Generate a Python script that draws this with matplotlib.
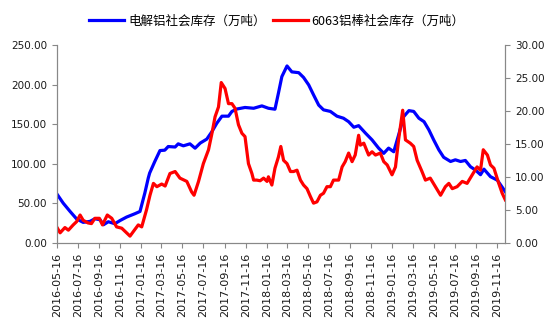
import pandas as pd
import matplotlib
matplotlib.use("Agg")
import matplotlib.pyplot as plt
import matplotlib.dates as mdates
from matplotlib.ticker import FormatStrFormatter

plt.rcParams['font.family'] = ['Noto Sans CJK SC', 'DejaVu Sans']

# 电解铝社会库存（万吨）, left axis
alu_dates = [
    "2016-05-16", "2016-06-04", "2016-06-24", "2016-07-13", "2016-08-01", "2016-08-21",
    "2016-09-04", "2016-09-19", "2016-09-29", "2016-10-13", "2016-11-01", "2016-11-16",
    "2016-12-05", "2016-12-29", "2017-01-13", "2017-01-27", "2017-02-06", "2017-02-10",
    "2017-02-25", "2017-03-12", "2017-03-26", "2017-04-05", "2017-04-25", "2017-05-04",
    "2017-05-19", "2017-06-07", "2017-06-22", "2017-07-07", "2017-07-26", "2017-08-10",
    "2017-08-24", "2017-09-08", "2017-09-27", "2017-10-07", "2017-10-21", "2017-11-14",
    "2017-12-09", "2018-01-02", "2018-01-21", "2018-02-09", "2018-02-19", "2018-03-01",
    "2018-03-16", "2018-03-30", "2018-04-19", "2018-05-03", "2018-05-18", "2018-06-01",
    "2018-06-16", "2018-06-30", "2018-07-20", "2018-08-08", "2018-08-27", "2018-09-11",
    "2018-09-26", "2018-10-10", "2018-10-30", "2018-11-18", "2018-12-07", "2018-12-22",
    "2019-01-05", "2019-01-20", "2019-02-03", "2019-02-18", "2019-03-05", "2019-03-19",
    "2019-04-03", "2019-04-18", "2019-05-02", "2019-05-16", "2019-05-31", "2019-06-14",
    "2019-07-04", "2019-07-18", "2019-08-02", "2019-08-16", "2019-08-31", "2019-09-14",
    "2019-09-29", "2019-10-09", "2019-10-28", "2019-11-17", "2019-12-10",
]
alu_stock = [
    62, 50, 39.5, 30, 25.7, 27,
    30.3, 29, 22.7, 26.5, 24, 28,
    32.4, 36.6, 39.5, 62.7, 81.7, 88,
    102.7, 116.5, 117, 121.6, 121, 125,
    122.5, 125, 119.5, 126, 131, 140.5,
    151, 160, 160, 166, 169, 171,
    170, 173, 170, 168.8, 189, 210,
    223.5, 216, 215, 209, 199.5, 187,
    174, 168, 166, 160, 157.4, 153,
    146, 148, 138.5, 130, 119.6, 113,
    119.6, 115, 136, 159.5, 167, 166,
    157.4, 153, 142.7, 130, 117.4, 108,
    102.7, 104.8, 102.7, 104, 96, 92,
    86, 93, 83.5, 79, 64.5,
]

# 6063铝棒社会库存（万吨）, right axis
rod_dates = [
    "2016-05-16", "2016-05-26", "2016-06-09", "2016-06-19", "2016-07-03", "2016-07-13",
    "2016-07-23", "2016-08-01", "2016-08-15", "2016-08-25", "2016-09-04", "2016-09-17",
    "2016-09-26", "2016-10-10", "2016-10-23", "2016-11-06", "2016-11-21", "2016-12-05",
    "2016-12-15", "2016-12-29", "2017-01-08", "2017-01-18", "2017-02-01", "2017-02-11",
    "2017-02-21", "2017-03-03", "2017-03-17", "2017-03-27", "2017-04-10", "2017-04-25",
    "2017-05-09", "2017-05-29", "2017-06-12", "2017-06-19", "2017-07-02", "2017-07-16",
    "2017-07-31", "2017-08-10", "2017-08-19", "2017-08-29", "2017-09-06", "2017-09-17",
    "2017-09-27", "2017-10-07", "2017-10-16", "2017-10-26", "2017-11-05", "2017-11-14",
    "2017-11-24", "2017-12-04", "2017-12-09", "2017-12-18", "2017-12-28", "2018-01-07",
    "2018-01-17", "2018-01-21", "2018-01-31", "2018-02-09", "2018-02-19", "2018-02-26",
    "2018-03-06", "2018-03-16", "2018-03-26", "2018-04-04", "2018-04-14", "2018-04-24",
    "2018-05-03", "2018-05-13", "2018-05-23", "2018-06-01", "2018-06-11", "2018-06-21",
    "2018-06-30", "2018-07-10", "2018-07-20", "2018-07-29", "2018-08-13", "2018-08-23",
    "2018-09-01", "2018-09-11", "2018-09-21", "2018-09-30", "2018-10-10", "2018-10-15",
    "2018-10-25", "2018-11-08", "2018-11-18", "2018-11-28", "2018-12-12", "2018-12-22",
    "2019-01-01", "2019-01-15", "2019-01-25", "2019-02-03", "2019-02-15", "2019-02-23",
    "2019-03-09", "2019-03-19", "2019-03-29", "2019-04-12", "2019-04-22", "2019-05-06",
    "2019-05-21", "2019-06-05", "2019-06-19", "2019-06-29", "2019-07-09", "2019-07-23",
    "2019-08-07", "2019-08-21", "2019-09-05", "2019-09-19", "2019-09-29", "2019-10-07",
    "2019-10-19", "2019-10-28", "2019-11-07", "2019-11-21", "2019-12-01", "2019-12-10",
]
rod_stock = [
    2.4, 1.5, 2.3, 1.9, 2.7, 3.2,
    4.2, 3.4, 3.0, 2.9, 3.7, 3.7,
    2.7, 4.2, 3.7, 2.4, 2.2, 1.5,
    1.0, 2.0, 2.7, 2.4, 5.0, 7.2,
    9.0, 8.5, 8.9, 8.6, 10.5, 10.8,
    9.8, 9.3, 7.7, 7.2, 9.3, 12.0,
    14.1, 16.6, 19.1, 20.6, 24.3, 23.4,
    21.1, 21.1, 20.4, 17.9, 16.6, 16.1,
    12.0, 10.5, 9.5, 9.5, 9.4, 9.8,
    9.3, 10.0, 8.75, 11.3, 13.0, 14.6,
    12.5, 12.0, 10.8, 10.8, 11.0, 9.5,
    8.75, 8.2, 7.0, 6.0, 6.2, 7.2,
    7.5, 8.5, 8.5, 9.5, 9.5, 11.5,
    12.3, 13.6, 12.3, 13.3, 16.3, 14.8,
    15.1, 13.3, 13.8, 13.3, 13.6, 12.3,
    11.8, 10.3, 11.5, 15.6, 20.1, 15.6,
    15.1, 14.6, 12.5, 10.8, 9.5, 9.8,
    8.5, 7.2, 8.5, 9.0, 8.2, 8.5,
    9.3, 9.0, 10.3, 11.5, 11.0, 14.1,
    13.3, 11.8, 11.3, 9.0, 7.5, 6.5,
]

alu_label = "电解铝社会库存（万吨）"
rod_label = "6063铝棒社会库存（万吨）"

fig = plt.figure(figsize=(5.54, 3.27), dpi=100)
ax = fig.add_axes([0.1023, 0.2578, 0.8098, 0.6046])
ax2 = ax.twinx()

l1, = ax.plot(pd.to_datetime(alu_dates), alu_stock, color="#0000FF", lw=2.3, label=alu_label)
l2, = ax2.plot(pd.to_datetime(rod_dates), rod_stock, color="#FF0000", lw=2.3, label=rod_label)

ax.set_ylim(0, 250)
ax.set_yticks([0, 50, 100, 150, 200, 250])
ax2.set_ylim(0, 30)
ax2.set_yticks([0, 5, 10, 15, 20, 25, 30])
ax.yaxis.set_major_formatter(FormatStrFormatter('%.2f'))
ax2.yaxis.set_major_formatter(FormatStrFormatter('%.2f'))

ax.set_xlim(pd.Timestamp("2016-05-16"), pd.Timestamp("2019-12-10"))
ax.xaxis.set_major_locator(mdates.MonthLocator(bymonth=[1, 3, 5, 7, 9, 11], bymonthday=16))
ax.xaxis.set_major_formatter(mdates.DateFormatter('%Y-%m-%d'))

axis_grey = "#888888"
for a in (ax, ax2):
    a.spines['top'].set_visible(False)
    for s in ('left', 'right', 'bottom'):
        a.spines[s].set_color(axis_grey)
    a.tick_params(colors=axis_grey, labelcolor="#1a1a1a", length=3.5, width=0.8)

for lab in ax.get_yticklabels() + ax2.get_yticklabels():
    lab.set_fontfamily('DejaVu Sans')
    lab.set_fontsize(7.5)
for lab in ax.get_xticklabels():
    lab.set_fontfamily('DejaVu Sans')
    lab.set_fontsize(8)
    lab.set_rotation(90)

fig.legend(handles=[l1, l2], loc="center", bbox_to_anchor=(0.5, 0.935), ncol=2,
           frameon=False, fontsize=9, handlelength=2.8, columnspacing=0.6,
           handletextpad=0.3)

fig.savefig("out.png", dpi=100)
